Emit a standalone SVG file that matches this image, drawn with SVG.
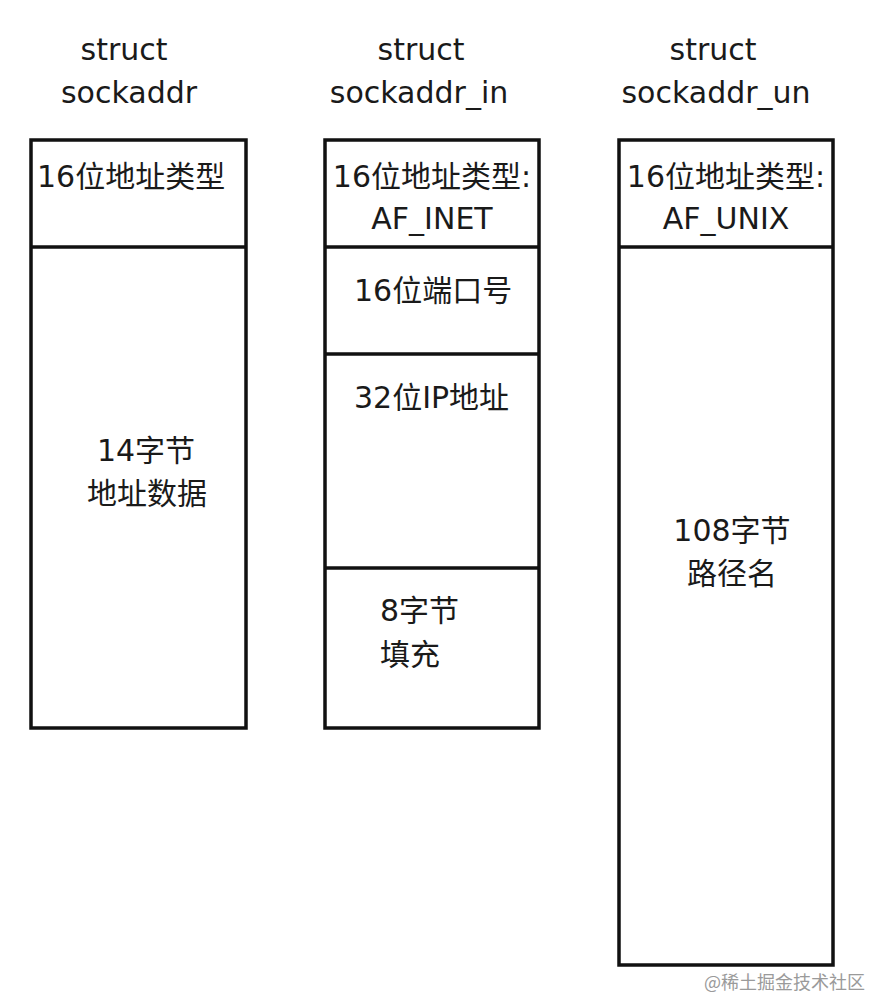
<svg xmlns="http://www.w3.org/2000/svg" width="870" height="999" viewBox="0 0 870 999">
<style>
.box{fill:#fff;stroke:#111;stroke-width:3.5}
.div{stroke:#111;stroke-width:3.5}
text{font-family:"DejaVu Sans","Noto Sans CJK SC",sans-serif;font-size:30px;fill:#1a1a1a}
.c{text-anchor:middle}
.wm{font-size:18px;fill:#9a9a9a;font-family:"Noto Sans CJK SC",sans-serif}
</style>
<rect width="870" height="999" fill="#fff"/>
<g id="sockaddr">
<text class="c" x="124" y="60">struct</text>
<text class="c" x="129" y="103">sockaddr</text>
<rect class="box" x="31" y="140" width="215" height="588"/>
<line class="div" x1="31" y1="247" x2="246" y2="247"/>
<text x="37" y="187">16位地址类型</text>
<text class="c" x="146" y="461">14字节</text>
<text class="c" x="147" y="504">地址数据</text>
</g>
<g id="sockaddr_in">
<text class="c" x="421" y="60">struct</text>
<text class="c" x="419" y="103">sockaddr_in</text>
<rect class="box" x="325" y="140" width="214" height="588"/>
<line class="div" x1="325" y1="247" x2="539" y2="247"/>
<line class="div" x1="325" y1="354" x2="539" y2="354"/>
<line class="div" x1="325" y1="568" x2="539" y2="568"/>
<text class="c" x="432" y="187">16位地址类型:</text>
<text class="c" x="432" y="229">AF_INET</text>
<text x="354" y="301">16位端口号</text>
<text x="354" y="408">32位IP地址</text>
<text x="380" y="621">8字节</text>
<text x="380" y="665">填充</text>
</g>
<g id="sockaddr_un">
<text class="c" x="713" y="60">struct</text>
<text class="c" x="716" y="103">sockaddr_un</text>
<rect class="box" x="619" y="140" width="214" height="825"/>
<line class="div" x1="619" y1="247" x2="833" y2="247"/>
<text class="c" x="726" y="187">16位地址类型:</text>
<text class="c" x="726" y="229">AF_UNIX</text>
<text class="c" x="732" y="541">108字节</text>
<text class="c" x="732" y="584">路径名</text>
</g>
<g id="connectors"/>
<text class="wm" x="704" y="989">@稀土掘金技术社区</text>
</svg>
